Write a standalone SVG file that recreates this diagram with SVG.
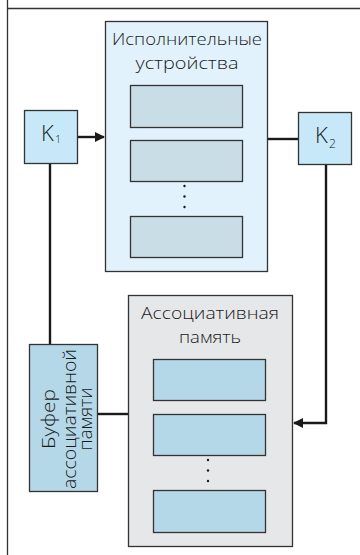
<svg xmlns="http://www.w3.org/2000/svg" width="360" height="555" viewBox="0 0 360 555">
<style>
.t{font-family:"Open Sans","Liberation Sans",sans-serif;font-weight:300;fill:#1a1a1a}
.box{stroke:#333;stroke-width:1.3}
.ln{stroke:#1a1a1a;stroke-width:2.4;fill:none}
.dot{fill:#1a1a1a}
</style>
<defs>
<marker id="ah" markerWidth="10" markerHeight="10" refX="9" refY="5" orient="auto" markerUnits="userSpaceOnUse">
<path d="M0,0 L10,5 L0,10 Z" fill="#1a1a1a"/>
</marker>
</defs>
<rect width="360" height="555" fill="#fff"/>
<g id="frame">
<line x1="7.5" y1="0" x2="7.5" y2="555" stroke="#333" stroke-width="1.3"/>
<line x1="7" y1="8.5" x2="360" y2="8.5" stroke="#333" stroke-width="1.3"/>
</g>
<g id="connectors">
<line class="ln" x1="78" y1="137" x2="104" y2="137" marker-end="url(#ah)"/>
<line class="ln" x1="267" y1="139" x2="298" y2="139"/>
<polyline class="ln" points="326,165 326,423 294,423" marker-end="url(#ah)"/>
<line class="ln" x1="50" y1="163" x2="50" y2="344"/>
<line class="ln" x1="98" y1="414" x2="128" y2="414"/>
</g>
<g id="exec">
<rect class="box" x="105.5" y="21.5" width="162" height="250" fill="#e1f2fc"/>
<text class="t" x="187" y="45" font-size="17" text-anchor="middle" textLength="150" lengthAdjust="spacingAndGlyphs">Исполнительные</text>
<text class="t" x="187" y="69" font-size="17" text-anchor="middle" textLength="103" lengthAdjust="spacingAndGlyphs">устройства</text>
<rect class="box" x="130.5" y="85.5" width="112" height="42" fill="#c9dde7"/>
<rect class="box" x="130.5" y="140.5" width="112" height="41" fill="#c9dde7"/>
<rect class="box" x="130.5" y="216.5" width="112" height="41" fill="#c9dde7"/>
<circle class="dot" cx="184.5" cy="186" r="1.2"/>
<circle class="dot" cx="184.5" cy="196.5" r="1.2"/>
<circle class="dot" cx="184.5" cy="207" r="1.2"/>
</g>
<g id="k1">
<rect class="box" x="24.5" y="110.5" width="53" height="53" fill="#c6e8f9"/>
<text class="t" x="41" y="141" font-size="22">K</text>
<text class="t" x="55" y="143" font-size="11">1</text>
</g>
<g id="k2">
<rect class="box" x="298.5" y="112.5" width="53" height="52" fill="#c6e8f9"/>
<text class="t" x="315" y="143" font-size="22">K</text>
<text class="t" x="329" y="148" font-size="12" fill="#555">2</text>
</g>
<g id="buffer">
<rect class="box" x="29.5" y="344.5" width="68" height="147" fill="#b5d8e9"/>
<g transform="translate(63,419) rotate(-90)">
<text class="t" x="0" y="-8" font-size="19" text-anchor="middle" textLength="60" lengthAdjust="spacingAndGlyphs">Буфер</text>
<text class="t" x="0" y="13" font-size="19" text-anchor="middle" textLength="140" lengthAdjust="spacingAndGlyphs">ассоциативной</text>
<text class="t" x="0" y="29" font-size="19" text-anchor="middle" textLength="63" lengthAdjust="spacingAndGlyphs">памяти</text>
</g>
</g>
<g id="assoc">
<rect class="box" x="128.5" y="295.5" width="164" height="251" fill="#e6e7e9"/>
<text class="t" x="210" y="319" font-size="17" text-anchor="middle" textLength="138" lengthAdjust="spacingAndGlyphs">Ассоциативная</text>
<text class="t" x="210" y="343" font-size="17" text-anchor="middle" textLength="62" lengthAdjust="spacingAndGlyphs">память</text>
<rect class="box" x="153.5" y="359.5" width="112" height="41" fill="#b5d8e9"/>
<rect class="box" x="153.5" y="414.5" width="112" height="41" fill="#b5d8e9"/>
<rect class="box" x="153.5" y="490.5" width="112" height="42" fill="#b5d8e9"/>
<circle class="dot" cx="208" cy="460" r="1.2"/>
<circle class="dot" cx="208" cy="470.5" r="1.2"/>
<circle class="dot" cx="208" cy="481" r="1.2"/>
</g>
</svg>
